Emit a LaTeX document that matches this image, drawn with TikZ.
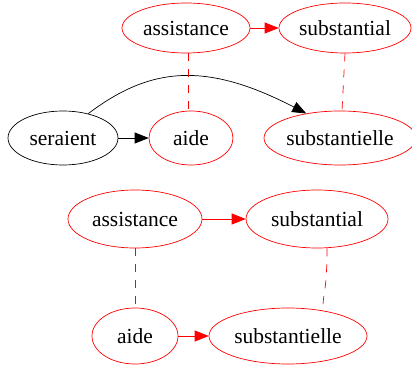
\documentclass[tikz,border=0pt]{standalone}
\usepackage{fontspec}
\setmainfont{Liberation Serif}
\usetikzlibrary{shapes.geometric,arrows.meta}
\begin{document}
\begin{tikzpicture}[x=1pt,y=-1pt,
  every node/.style={ellipse,draw,inner sep=0pt,line width=0.7pt,font=\fontsize{21.5}{25}\selectfont},
  rnode/.style={draw=red},
  bnode/.style={draw=black},
  arr/.style={line width=0.7pt,-{Triangle[length=14pt,width=11pt]}},
  rarr/.style={arr,red},
  dashline/.style={red,line width=0.7pt,dash pattern=on 8pt off 8pt}
]
\useasboundingbox (0,0) rectangle (412,371);
% top graph
\node[rnode,minimum width=128pt,minimum height=50pt] (as1) at (186,28) {assistance};
\node[rnode,minimum width=132pt,minimum height=50pt] (sb1) at (345,28) {substantial};
\node[bnode,minimum width=110pt,minimum height=54pt] (ser) at (63,138) {seraient};
\node[rnode,minimum width=84pt,minimum height=54pt] (ai1) at (191,138) {aide};
\node[rnode,minimum width=144pt,minimum height=54pt] (se1) at (340,138) {substantielle};
\draw[rarr] (as1.east) -- (sb1.west);
\draw[arr] (ser.east) -- (ai1.west);
\draw[arr] (ser.44) .. controls (150,67) and (205,61) .. (se1.144);
\draw[dashline] ([xshift=2pt]as1.south) -- ([xshift=-3pt]ai1.north);
\draw[dashline] (sb1.south) -- ([xshift=2pt]se1.north);
% bottom graph
\node[rnode,minimum width=134pt,minimum height=58pt] (as2) at (135,219) {assistance};
\node[rnode,minimum width=142pt,minimum height=58pt] (sb2) at (317,219) {substantial};
\node[rnode,minimum width=86pt,minimum height=56pt] (ai2) at (135,336) {aide};
\node[rnode,minimum width=158pt,minimum height=56pt] (se2) at (288,336) {substantielle};
\draw[rarr] (as2.east) -- (sb2.west);
\draw[rarr] (ai2.east) -- (se2.west);
\draw[dashline] (as2.south) -- (ai2.north);
\draw[dashline] ([xshift=10pt]sb2.south) .. controls (327,292) and (323,292) .. ([xshift=35pt]se2.north);
\end{tikzpicture}
\end{document}
